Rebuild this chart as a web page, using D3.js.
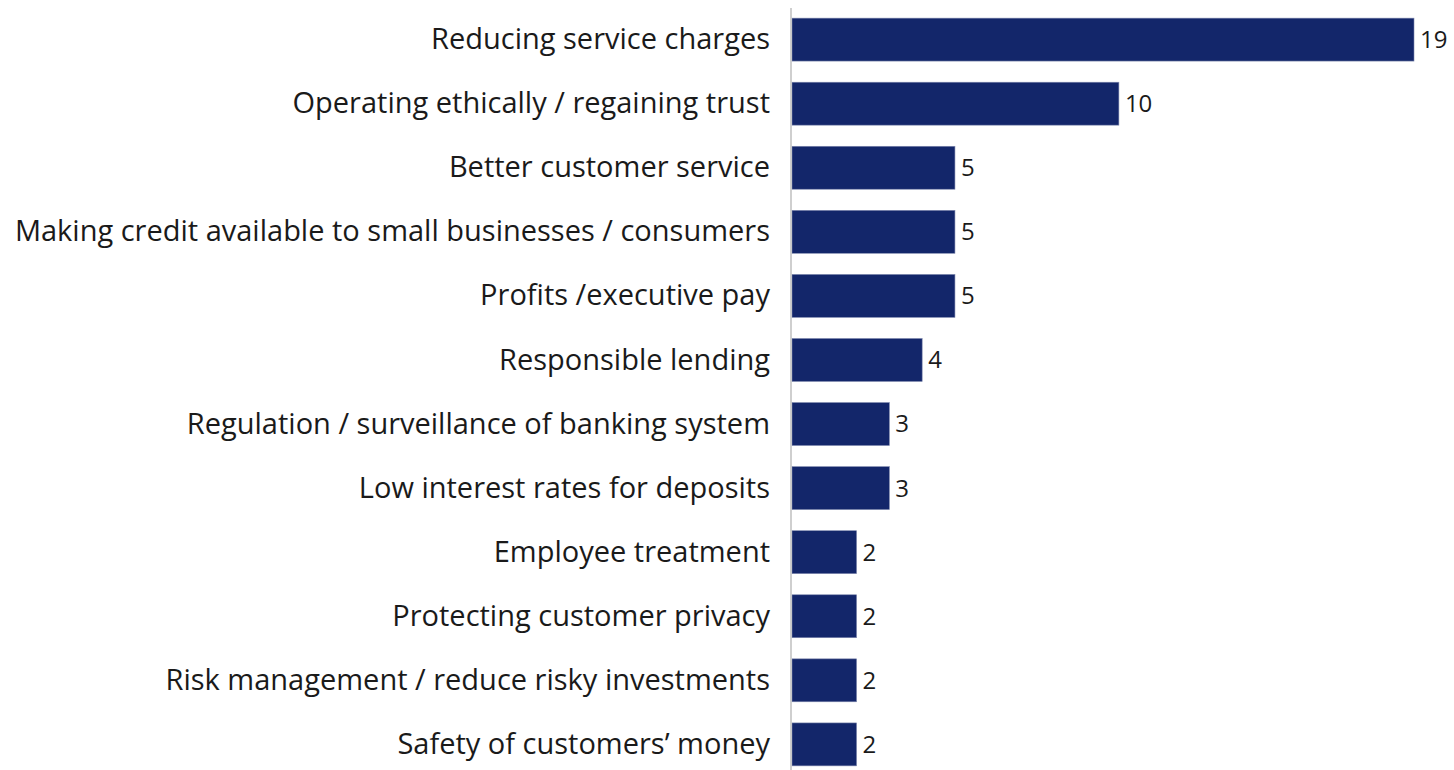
<!DOCTYPE html>
<html>
<head>
<meta charset="utf-8">
<script src="https://cdn.jsdelivr.net/npm/d3@7"></script>
<style>
  body { margin: 0; background: #fff; }
  #chart { width: 1454px; height: 770px; }
  text { font-family: "Open Sans", sans-serif; fill: #1a1a1a; }
</style>
</head>
<body>
<div id="chart"></div>
<script>
var categories = [
    "Reducing service charges",
    "Operating ethically / regaining trust",
    "Better customer service",
    "Making credit available to small businesses / consumers",
    "Profits /executive pay",
    "Responsible lending",
    "Regulation / surveillance of banking system",
    "Low interest rates for deposits",
    "Employee treatment",
    "Protecting customer privacy",
    "Risk management / reduce risky investments",
    "Safety of customers\u2019 money"
];
var values = [19, 10, 5, 5, 5, 4, 3, 3, 2, 2, 2, 2];

var width = 1454, height = 770;
var axisX = 791;

var svg = d3.select("#chart")
            .append("svg")
            .attr("width", width)
            .attr("height", height);

var x = d3.scaleLinear()
    .domain([0, 19])
    .range([axisX, 1414]);

var y = d3.scaleBand()
    .domain(categories)
    .range([-3, 787])
    .paddingInner(0.33)
    .paddingOuter(0.33);

svg.selectAll("rect.bar")
    .data(values)
    .enter()
    .append("rect")
    .attr("class", "bar")
    .attr("x", x(0) + 1)
    .attr("y", function(d, i) { return y(categories[i]); })
    .attr("width", function(d) { return x(d) - x(0) - 1; })
    .attr("height", y.bandwidth())
    .style("fill", "#13266a")
    .style("stroke", "#7d87ad")
    .style("stroke-width", 0.6);

// vertical axis line
svg.append("line")
    .attr("x1", axisX).attr("x2", axisX)
    .attr("y1", 8).attr("y2", height)
    .style("stroke", "#bfbfbf")
    .style("stroke-width", 1.5);

svg.selectAll("text.label")
    .data(categories)
    .enter()
    .append("text")
    .attr("class", "label")
    .attr("x", 770)
    .attr("y", function(d) { return y(d) + y.bandwidth() / 2; })
    .attr("dy", "0.33em")
    .attr("text-anchor", "end")
    .style("font-size", "29px")
    .text(function(d) { return d; });

svg.selectAll("text.value")
    .data(values)
    .enter()
    .append("text")
    .attr("class", "value")
    .attr("x", function(d) { return x(d) + 6; })
    .attr("y", function(d, i) { return y(categories[i]) + y.bandwidth() / 2; })
    .attr("dy", "0.35em")
    .style("font-size", "24px")
    .text(function(d) { return d; });
</script>
</body>
</html>
